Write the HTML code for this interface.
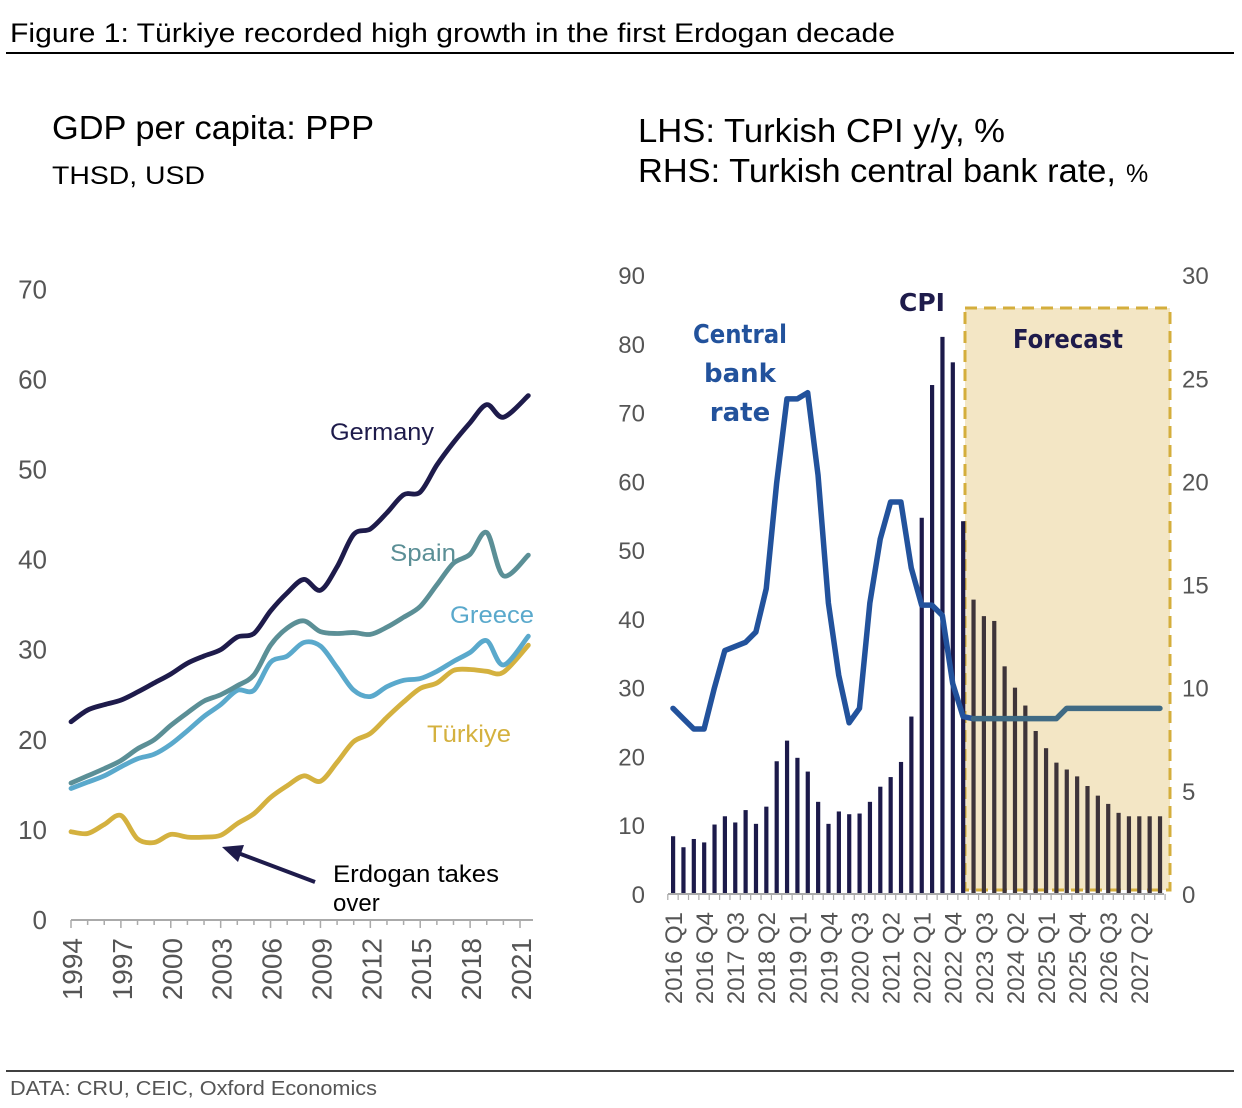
<!DOCTYPE html>
<html><head><meta charset="utf-8"><style>
body{margin:0;background:#fff;}
svg{display:block;font-family:"Liberation Sans",Arial,sans-serif;}
</style></head><body>
<svg id="fig" width="1242" height="1108" viewBox="0 0 1242 1108">
<text x="10" y="42" font-size="27" fill="#000" textLength="885" lengthAdjust="spacingAndGlyphs">Figure 1: Türkiye recorded high growth in the first Erdogan decade</text>
<line x1="6" y1="53" x2="1234" y2="53" stroke="#000" stroke-width="2"/>
<text x="52" y="139" font-size="33" fill="#000" textLength="322" lengthAdjust="spacingAndGlyphs">GDP per capita: PPP</text>
<text x="52" y="184" font-size="25" fill="#000" textLength="153" lengthAdjust="spacingAndGlyphs">THSD, USD</text>
<text x="638" y="142" font-size="33" fill="#000" textLength="367" lengthAdjust="spacingAndGlyphs">LHS: Turkish CPI y/y, %</text>
<text x="638" y="182" font-size="33" fill="#000"><tspan textLength="478" lengthAdjust="spacingAndGlyphs">RHS: Turkish central bank rate,</tspan><tspan font-size="25" dx="10">%</tspan></text>
<g id="left"></g>
<g id="right"></g>
<line x1="6" y1="1071" x2="1234" y2="1071" stroke="#000" stroke-width="1.5"/>
<text x="10" y="1095" font-size="20" fill="#555" textLength="367" lengthAdjust="spacingAndGlyphs">DATA: CRU, CEIC, Oxford Economics</text>
</svg>
<script>
// ---- Left chart data ----
const years = [1994,1995,1996,1997,1998,1999,2000,2001,2002,2003,2004,2005,2006,2007,2008,2009,2010,2011,2012,2013,2014,2015,2016,2017,2018,2019,2020,2021.5];
const germany = [22,23.3,23.9,24.4,25.3,26.3,27.3,28.5,29.3,30,31.4,31.8,34.3,36.3,37.8,36.6,39.2,42.8,43.4,45.2,47.2,47.5,50.5,53,55.2,57.2,55.8,58.2];
const spain = [15.2,16,16.8,17.7,19,20,21.6,23,24.3,25,26,27.2,30.5,32.4,33.2,32,31.8,31.9,31.7,32.5,33.6,34.8,37.2,39.6,40.6,43,38.2,40.5];
const greece = [14.6,15.3,16,17,17.9,18.4,19.5,21,22.6,23.9,25.5,25.5,28.6,29.3,30.8,30.4,28,25.5,24.8,25.9,26.6,26.8,27.6,28.7,29.7,31,28.3,31.5];
const turkiye = [9.8,9.6,10.6,11.6,9.0,8.6,9.5,9.2,9.2,9.4,10.7,11.8,13.6,14.9,16,15.4,17.5,19.8,20.7,22.5,24.2,25.7,26.3,27.7,27.8,27.6,27.5,30.5];
const leftYTicks = [0,10,20,30,40,50,60,70];
const leftXTicks = [1994,1997,2000,2003,2006,2009,2012,2015,2018,2021];

// ---- Right chart data ----
const quarters = [];
for (let y=2016;y<=2027;y++) for (let q=1;q<=4;q++) quarters.push(y+' Q'+q);
const cpi = [8.4,6.8,8.0,7.5,10.1,11.3,10.4,12.2,10.2,12.7,19.3,22.3,19.8,17.8,13.4,10.2,12.0,11.6,11.7,13.4,15.6,17.0,19.2,25.8,54.7,74.0,81.0,77.3,54.2,42.8,40.4,39.7,33.1,30.0,27.4,23.7,21.2,19.1,18.1,17.1,15.7,14.3,13.1,11.8,11.3,11.3,11.3,11.3];
const rate = [9.0,8.5,8.0,8.0,10.0,11.8,12.0,12.2,12.7,14.8,19.9,24.0,24.0,24.3,20.3,14.1,10.6,8.3,9.0,14.1,17.2,19.0,19.0,15.8,14.0,14.0,13.5,10.2,8.6,8.5,8.5,8.5,8.5,8.5,8.5,8.5,8.5,8.5,9.0,9.0,9.0,9.0,9.0,9.0,9.0,9.0,9.0,9.0];
const forecastStart = 29;
const lhsTicks = [0,10,20,30,40,50,60,70,80,90];
const rhsTicks = [0,5,10,15,20,25,30];

const NS='http://www.w3.org/2000/svg';
function mk(tag, attrs, parent, txt){const e=document.createElementNS(NS,tag);for(const k in attrs)e.setAttribute(k,attrs[k]);if(txt!==undefined)e.textContent=txt;parent.appendChild(e);return e;}
function smooth(pts){let d='M'+pts[0][0]+','+pts[0][1];for(let i=0;i<pts.length-1;i++){const p0=pts[Math.max(0,i-1)],p1=pts[i],p2=pts[i+1],p3=pts[Math.min(pts.length-1,i+2)];const t=0.16;d+=' C'+(p1[0]+(p2[0]-p0[0])*t)+','+(p1[1]+(p2[1]-p0[1])*t)+' '+(p2[0]-(p3[0]-p1[0])*t)+','+(p2[1]-(p3[1]-p1[1])*t)+' '+p2[0]+','+p2[1];}return d;}

// ---- Left chart ----
const L=document.getElementById('left');
const lx = y => 71 + (y-1994)*16.63;
const ly = v => 920 - v*9.01;
leftYTicks.forEach(v=>{
  const t=mk('text',{x:47,y:ly(v)+9,'font-size':26,fill:'#555','text-anchor':'end'},L,String(v));
  
  
});
const lax=mk('line',{x1:71,y1:920,x2:533,y2:920,stroke:'#aaa','stroke-width':2},L);


for(let y=1994;y<=2021;y++){
  const tk=mk('line',{x1:lx(y),y1:920,x2:lx(y),y2:(y-1994)%3===0?928:925,stroke:'#aaa','stroke-width':1.5},L);
  
  
}
leftXTicks.forEach(y=>{
  const t=mk('text',{x:0,y:0,'font-size':28,fill:'#555','text-anchor':'end',transform:'translate('+(lx(y)+11)+',938) rotate(-90)'},L,String(y));
  
  
});
const series=[['germany',germany,'#1e1b4b'],['spain',spain,'#5b8f96'],['greece',greece,'#5aa9cc'],['turkiye',turkiye,'#d4b13f']];
series.slice().reverse().forEach(([n,arr,c])=>{
  const p=mk('path',{d:smooth(arr.map((v,i)=>[lx(years[i]),ly(v)])),fill:'none',stroke:c,'stroke-width':4.8,'stroke-linejoin':'round','stroke-linecap':'round'},L);
  
  
});
[['Germany',330,440,'#1e1b4b','germany-label',104],['Spain',390,561,'#5b8f96','spain-label',66],['Greece',450,623,'#5aa9cc','greece-label',84],['Türkiye',427,742,'#d4b13f','turkiye-label',84]].forEach(([s,x,y,c,n,w])=>{
  const t=mk('text',{x:x,y:y,'font-size':24,fill:c,textLength:w,lengthAdjust:'spacingAndGlyphs'},L,s);
  
  
});
const arr=mk('line',{x1:315,y1:882,x2:238,y2:853,stroke:'#1e1b4b','stroke-width':4},L);


const ah=mk('polygon',{points:'222,847 244,845 238,862',fill:'#1e1b4b'},L);


const ann=mk('text',{x:333,y:882,'font-size':24,fill:'#000'},L);


mk('tspan',{x:333,dy:0,textLength:166,lengthAdjust:'spacingAndGlyphs'},ann,'Erdogan takes');
mk('tspan',{x:333,dy:29},ann,'over');

// ---- Right chart ----
const R=document.getElementById('right');
const bx = i => 673 + i*10.36;
const by = v => 894 - v*6.878;
const ry = v => 894 - v*20.63;
const box=mk('rect',{x:965,y:308,width:205,height:582,fill:'#f3e6c5',stroke:'#d4ae3c','stroke-width':3,'stroke-dasharray':'12,7'},R);


lhsTicks.forEach(v=>{
  const t=mk('text',{x:645,y:by(v)+9,'font-size':24,fill:'#555','text-anchor':'end'},R,String(v));
  
  
});
rhsTicks.forEach(v=>{
  const t=mk('text',{x:1182,y:ry(v)+9,'font-size':24,fill:'#555'},R,String(v));
  
  
});
cpi.forEach((v,i)=>{
  const b=mk('rect',{x:bx(i)-2,y:by(v),width:4.2,height:v*6.878,fill:i<forecastStart?'#1c1a4a':'#3e3439'},R);
  
  
});
const rax=mk('line',{x1:668,y1:894,x2:1164,y2:894,stroke:'#aaa','stroke-width':2},R);


for(let i=0;i<=cpi.length;i++){
  const tk=mk('line',{x1:bx(i)-5.2,y1:894,x2:bx(i)-5.2,y2:900,stroke:'#aaa','stroke-width':1.2},R);
  
  
}
quarters.forEach((q,i)=>{
  if(i%3!==0) return;
  const t=mk('text',{x:0,y:0,'font-size':24,fill:'#555','text-anchor':'end',transform:'translate('+(bx(i)+9)+',912) rotate(-90)'},R,q);
  
  
});
const hist=rate.slice(0,forecastStart+1).map((v,i)=>[bx(i),ry(v)]);
const fut=rate.slice(forecastStart).map((v,i)=>[bx(i+forecastStart),ry(v)]);
const rl=mk('polyline',{points:hist.map(p=>p.join(',')).join(' '),fill:'none',stroke:'#22529c','stroke-width':5.5,'stroke-linejoin':'round','stroke-linecap':'round'},R);


const rf=mk('polyline',{points:fut.map(p=>p.join(',')).join(' '),fill:'none',stroke:'#3f6a84','stroke-width':5.5,'stroke-linejoin':'round','stroke-linecap':'round'},R);


const cl=mk('text',{x:740,y:343,'font-size':26,'font-weight':'bold',fill:'#22529c','text-anchor':'middle','font-family':'"DejaVu Sans","Liberation Sans",sans-serif'},R);


mk('tspan',{x:740,dy:0,textLength:94,lengthAdjust:'spacingAndGlyphs'},cl,'Central');
mk('tspan',{x:740,dy:39},cl,'bank');
mk('tspan',{x:740,dy:39},cl,'rate');
const cp=mk('text',{x:922,y:311,'font-size':25,'font-weight':'bold',fill:'#1e1b4b','text-anchor':'middle','font-family':'"DejaVu Sans","Liberation Sans",sans-serif'},R,'CPI');


const fc=mk('text',{x:1068,y:348,'font-size':26,'font-weight':'bold',fill:'#1e1b4b','text-anchor':'middle','font-family':'"DejaVu Sans","Liberation Sans",sans-serif',textLength:110,lengthAdjust:'spacingAndGlyphs'},R,'Forecast');


</script>
</body></html>
